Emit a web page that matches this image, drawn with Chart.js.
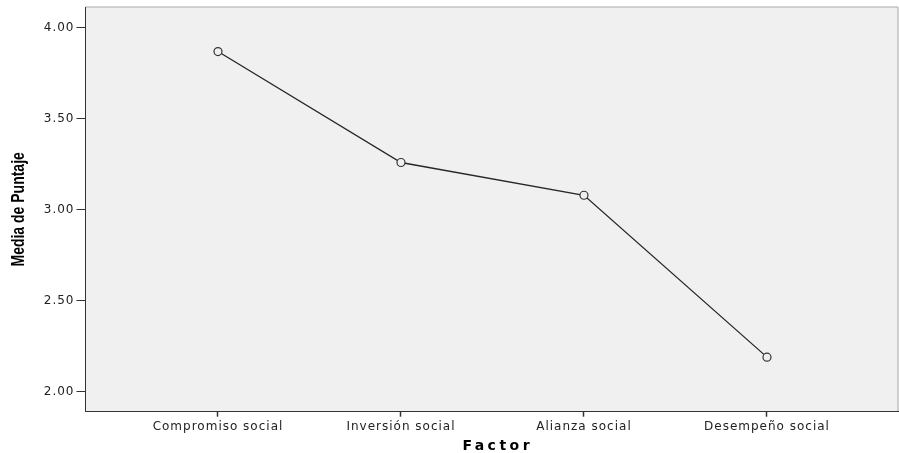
<!DOCTYPE html>
<html>
<head>
<meta charset="utf-8">
<script src="https://cdn.jsdelivr.net/npm/chart.js@4.4.1/dist/chart.umd.min.js"></script>
<style>
    body { margin: 0; background: #ffffff; overflow: hidden; }
</style>
</head>
<body>
<canvas id="mediaChart" width="899" height="453" style="display:block;width:899px;height:453px"></canvas>
<script>
// data
const factores = ['Compromiso social', 'Inversión social', 'Alianza social', 'Desempeño social'];
const medias = [3.87, 3.26, 3.08, 2.19];
const ticksY = [2.00, 2.50, 3.00, 3.50, 4.00];
const tituloY = 'Media de Puntaje';
const tituloX = 'Factor';

Chart.defaults.font.family = "'DejaVu Sans', sans-serif";
Chart.defaults.font.size = 12;
Chart.defaults.color = '#222222';

// no extra room for tick labels, the plot box is fixed by hand
function sinPadding(scale) {
    scale.paddingTop = 0;
    scale.paddingBottom = 0;
    scale.paddingLeft = 0;
    scale.paddingRight = 0;
}

// grey plot background, light top/right frame, both axis titles
const marco = {
    id: 'marco',
    beforeDraw: function (chart) {
        const a = chart.chartArea;
        const ctx = chart.ctx;
        ctx.save();
        ctx.fillStyle = '#f0f0f0';
        ctx.fillRect(a.left, a.top, a.right - a.left, a.bottom - a.top);
        ctx.strokeStyle = '#a8a8a8';
        ctx.lineWidth = 1;
        ctx.beginPath();
        ctx.moveTo(a.left, a.top);
        ctx.lineTo(a.right, a.top);
        ctx.lineTo(a.right, a.bottom);
        ctx.stroke();
        ctx.restore();
        // wide spaced text like the original export
        ctx.letterSpacing = '1px';
    },
    afterDraw: function (chart) {
        const a = chart.chartArea;
        const ctx = chart.ctx;
        ctx.save();
        ctx.letterSpacing = '0px';
        ctx.fillStyle = '#000000';
        ctx.font = "bold 14px 'Liberation Sans', Arial, sans-serif";
        ctx.textAlign = 'center';
        ctx.textBaseline = 'alphabetic';
        ctx.translate(24, (a.top + a.bottom) / 2);
        ctx.scale(1.3, 1);
        ctx.rotate(-Math.PI / 2);
        ctx.fillText(tituloY, 0, 0);
        ctx.restore();

        ctx.save();
        ctx.letterSpacing = '3.5px';
        ctx.fillStyle = '#000000';
        ctx.font = "bold 14px 'DejaVu Sans', sans-serif";
        ctx.textAlign = 'center';
        ctx.textBaseline = 'middle';
        ctx.fillText(tituloX, (a.left + a.right) / 2 + 6, 446);
        ctx.restore();
    }
};

const ctx = document.getElementById('mediaChart').getContext('2d');
new Chart(ctx, {
    type: 'line',
    data: {
        datasets: [{
            label: tituloY,
            data: medias.map(function (m, i) { return { x: i, y: m }; }),
            borderColor: '#262626',
            borderWidth: 1.3,
            pointStyle: 'circle',
            pointRadius: 4,
            pointBorderWidth: 1.2,
            pointBorderColor: '#333333',
            pointBackgroundColor: '#f0f0f0',
            tension: 0
        }]
    },
    options: {
        responsive: false,
        animation: false,
        layout: { autoPadding: false, padding: { top: 7, right: 1, left: 0, bottom: 0 } },
        plugins: {
            legend: { display: false },
            tooltip: { enabled: false }
        },
        scales: {
            x: {
                type: 'linear',
                min: -0.724,
                max: 3.716,
                afterBuildTicks: function (scale) {
                    scale.ticks = factores.map(function (f, i) { return { value: i }; });
                },
                afterFit: function (scale) {
                    scale.height = 41.3;
                    sinPadding(scale);
                },
                ticks: {
                    autoSkip: false,
                    maxRotation: 0,
                    padding: 3,
                    callback: function (v) { return factores[v]; }
                },
                grid: {
                    display: true,
                    drawOnChartArea: false,
                    tickLength: 5,
                    tickWidth: 1.5,
                    color: '#333333'
                },
                border: { display: true, color: '#333333', width: 1 }
            },
            y: {
                min: 1.89,
                max: 4.115,
                afterBuildTicks: function (scale) {
                    scale.ticks = ticksY.map(function (t) { return { value: t }; });
                },
                afterFit: function (scale) {
                    scale.width = 85.5;
                    sinPadding(scale);
                },
                ticks: {
                    padding: 2,
                    callback: function (v) { return Number(v).toFixed(2); }
                },
                grid: {
                    display: true,
                    drawOnChartArea: false,
                    tickLength: 9,
                    color: '#333333'
                },
                border: { display: true, color: '#333333', width: 1 }
            }
        }
    },
    plugins: [marco]
});
</script>
</body>
</html>
